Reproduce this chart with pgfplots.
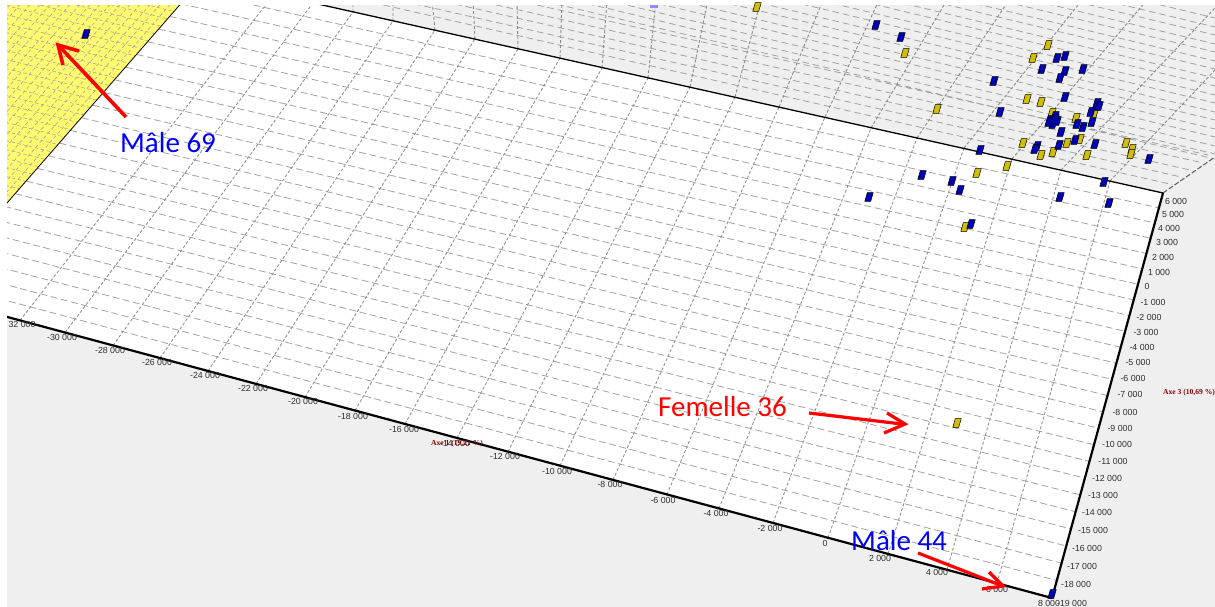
\documentclass[border=0pt]{standalone}
\usepackage{fontspec}
\setmainfont{Liberation Sans}
\newfontfamily\calib{Carlito}
\newfontfamily\seriff{Liberation Serif}
\usepackage{pgfplots}
\pgfplotsset{compat=1.18}
\definecolor{bgg}{HTML}{EFEFEF}
\definecolor{yel}{HTML}{FFFA6E}
\definecolor{gridg}{HTML}{A2A2A2}
\definecolor{chipb}{HTML}{0000B4}
\definecolor{chipy}{HTML}{D2BE00}
\pgfdeclareplotmark{chip}{%
  \pgfpathmoveto{\pgfqpoint{-4.2pt}{-4.4pt}}%
  \pgfpathlineto{\pgfqpoint{1.7pt}{-4.4pt}}%
  \pgfpathlineto{\pgfqpoint{4.2pt}{4.4pt}}%
  \pgfpathlineto{\pgfqpoint{-1.7pt}{4.4pt}}%
  \pgfpathclose
  \pgfusepathqfillstroke}
\newcommand\lab[3]{\node[font=\fontsize{8.8}{10}\selectfont,text=black!82,inner sep=0pt] at (axis cs:#1,#2) {#3};}
\begin{document}
\begin{tikzpicture}
\begin{axis}[
  width=1215pt,height=607pt,scale only axis,
  xmin=0,xmax=1215,ymin=0,ymax=607,y dir=reverse,
  hide axis,unbounded coords=jump,
  legend style={draw=none},
]
% background, back wall
\fill[bgg] (axis cs:0,0) rectangle (axis cs:1215,607);
% wall grid, rows
\addplot[gridg,line width=0.8pt,dash pattern=on 6.5pt off 4pt] coordinates {
(322,-9) (1172,184.5) (nan,nan)
(322,-17) (1181,177) (nan,nan)
(322,-26) (1190,170) (nan,nan)
(322,-34) (1199,162) (nan,nan)
(322,-43) (1208,155) (nan,nan)
(322,-51) (1215,159) (nan,nan)
(322,-60) (1215,154) (nan,nan)
(322,-68) (1215,146) (nan,nan)
(322,-77) (1215,137) (nan,nan)
(322,-85) (1215,129) (nan,nan)
(322,-94) (1215,120) (nan,nan)
(322,-102) (1215,112) (nan,nan)
(322,-111) (1215,103) (nan,nan)
(322,-119) (1215,95) (nan,nan)
(322,-128) (1215,86) (nan,nan)
(322,-136) (1215,78) (nan,nan)
(322,-145) (1215,69) (nan,nan)
(322,-153) (1215,61) (nan,nan)
(322,-162) (1215,52) (nan,nan)
(322,-170) (1215,44) (nan,nan)
(322,-179) (1215,35) (nan,nan)
(322,-187) (1215,27) (nan,nan)
(322,-196) (1215,18) (nan,nan)
};
% wall grid, columns
\addplot[gridg!85!black,line width=0.9pt,dash pattern=on 3pt off 2pt] coordinates {
(353,12) (353,0) (nan,nan)
(393,21) (393,0) (nan,nan)
(435,30) (432,0) (nan,nan)
(475,39) (473,0) (nan,nan)
(518,49) (517,0) (nan,nan)
(560,58) (562,0) (nan,nan)
(602,68) (607,0) (nan,nan)
(648,78) (656,0) (nan,nan)
(690,87) (708,0) (nan,nan)
(735,97) (761,0) (nan,nan)
(779,107) (823,0) (nan,nan)
(825,117) (879,0) (nan,nan)
(871,128) (947,0) (nan,nan)
(917,138) (1009,0) (nan,nan)
(964,148) (1082,0) (nan,nan)
(1012,159) (1147,0) (nan,nan)
(1061,170) (1215,8) (nan,nan)
(1110,181) (1215,70) (nan,nan)
};
\addplot[black!60,line width=1.1pt,dash pattern=on 5pt off 2pt] coordinates {(1163,193) (1215,157)};
% yellow wall
\fill[yel] (axis cs:0,0) -- (axis cs:184,0) -- (axis cs:0,211) -- cycle;
\addplot[gridg,line width=0.6pt,dash pattern=on 3.5pt off 2.5pt] coordinates {
(0,193) (200,243) (nan,nan)
(0,184) (200,234) (nan,nan)
(0,175) (200,225) (nan,nan)
(0,166) (200,216) (nan,nan)
(0,157) (200,207) (nan,nan)
(0,148) (200,198) (nan,nan)
(0,139) (200,189) (nan,nan)
(0,130) (200,180) (nan,nan)
(0,121) (200,171) (nan,nan)
(0,112) (200,162) (nan,nan)
(0,103) (200,153) (nan,nan)
(0,94) (200,144) (nan,nan)
(0,85) (200,135) (nan,nan)
(0,76) (200,126) (nan,nan)
(0,67) (200,117) (nan,nan)
(0,58) (200,108) (nan,nan)
(0,49) (200,99) (nan,nan)
(0,40) (200,90) (nan,nan)
(0,31) (200,81) (nan,nan)
(0,22) (200,72) (nan,nan)
(0,13) (200,63) (nan,nan)
(0,4) (200,54) (nan,nan)
(0,-5) (200,45) (nan,nan)
(0,-14) (200,36) (nan,nan)
(0,-23) (200,27) (nan,nan)
(0,-32) (200,18) (nan,nan)
(0,-41) (200,9) (nan,nan)
};
\addplot[gridg,line width=0.6pt,dash pattern=on 3.5pt off 2.5pt] coordinates {
(174,0) (0,200) (nan,nan)
(164,0) (0,188.5) (nan,nan)
(154,0) (0,177) (nan,nan)
(144,0) (0,165.5) (nan,nan)
(134,0) (0,154) (nan,nan)
(124,0) (0,142.5) (nan,nan)
(114,0) (0,131) (nan,nan)
(104,0) (0,119.5) (nan,nan)
(94,0) (0,108) (nan,nan)
(84,0) (0,96.5) (nan,nan)
(74,0) (0,85) (nan,nan)
(64,0) (0,73.5) (nan,nan)
(54,0) (0,62) (nan,nan)
(44,0) (0,50.5) (nan,nan)
(34,0) (0,39) (nan,nan)
(24,0) (0,27.6) (nan,nan)
(14,0) (0,16) (nan,nan)
};
% floor
\fill[white] (axis cs:184,0) -- (axis cs:300,0) -- (axis cs:1163,193) -- (axis cs:1052,598) -- (axis cs:0,315) -- (axis cs:0,211) -- cycle;
% floor rows
\addplot[gridg,line width=0.8pt,dash pattern=on 7pt off 3.5pt] coordinates {
(192,-8.8) (1158.9,207.9) (nan,nan)
(180.9,3.8) (1154.8,223) (nan,nan)
(169.9,16.5) (1150.6,238.2) (nan,nan)
(158.8,29.1) (1146.4,253.5) (nan,nan)
(147.8,41.8) (1142.2,268.8) (nan,nan)
(136.8,54.5) (1138,284.3) (nan,nan)
(125.7,67.1) (1133.7,299.9) (nan,nan)
(114.7,79.8) (1129.4,315.6) (nan,nan)
(103.6,92.4) (1125.1,331.3) (nan,nan)
(92.6,105.1) (1120.7,347.2) (nan,nan)
(81.6,117.8) (1116.3,363.2) (nan,nan)
(70.5,130.4) (1111.9,379.3) (nan,nan)
(59.5,143.1) (1107.5,395.5) (nan,nan)
(48.4,155.7) (1103,411.8) (nan,nan)
(37.4,168.4) (1098.5,428.2) (nan,nan)
(26.4,181.1) (1094,444.7) (nan,nan)
(15.3,193.7) (1089.5,461.4) (nan,nan)
(4.3,206.4) (1084.9,478.1) (nan,nan)
(-6.8,219) (1080.3,494.9) (nan,nan)
(-17.8,231.7) (1075.6,511.8) (nan,nan)
(-28.8,244.4) (1071,528.9) (nan,nan)
(-39.9,257) (1066.3,546) (nan,nan)
(-50.9,269.7) (1061.5,563.2) (nan,nan)
(-62,282.3) (1056.8,580.5) (nan,nan)
};
% floor columns
\addplot[gridg!90!black,line width=0.9pt,dash pattern=on 3pt off 2pt] coordinates {
(20,320.5) (274,-5.7) (nan,nan)
(65,332.6) (313,3) (nan,nan)
(113,345.5) (353,12) (nan,nan)
(160,358.1) (393,21) (nan,nan)
(208,371) (435,30) (nan,nan)
(256,384) (475,39) (nan,nan)
(305,397.1) (518,49) (nan,nan)
(355,410.6) (560,58) (nan,nan)
(405,424) (602,68) (nan,nan)
(457,438) (648,78) (nan,nan)
(508,451.7) (690,87) (nan,nan)
(560,465.7) (735,97) (nan,nan)
(613,480) (779,107) (nan,nan)
(667,494.5) (825,117) (nan,nan)
(719,508.5) (871,128) (nan,nan)
(773,523) (917,138) (nan,nan)
(828,537.8) (964,148) (nan,nan)
(888,553.9) (1012,159) (nan,nan)
(947,569.8) (1061,170) (nan,nan)
(997,583.2) (1110,181) (nan,nan)
};
% edges
\addplot[black,line width=0.8pt] coordinates {(184,0) (0,211)};
\addplot[black,line width=1.3pt] coordinates {(300,0) (1163,193)};
\addplot[black,line width=2.2pt] coordinates {(1163,193) (1052,598)};
\addplot[black,line width=2.2pt] coordinates {(0,315) (1052,598)};
% points
\addplot[only marks,mark=chip,mark options={fill=chipy,draw=black,line width=0.5pt}] coordinates {
(757,7) (905,53) (1048,45) (1033,58) (937,109) (1027,99) (1041,102) (1052,113)
(1076,118) (1094,114) (1023,143) (1041,155) (1053,152) (1067,143) (1080,139)
(1087,155) (1126,143) (1132,149) (1131,154) (1007,166) (977,173) (965,227) (957,423)
};
\addplot[only marks,mark=chip,mark options={fill=chipb,draw=black,line width=0.5pt}] coordinates {
(86,34) (876,25) (901,37) (994,81) (1057,58) (1065,56) (1042,69) (1083,69)
(1065,71) (1060,78) (1065,97) (1000,112) (1097,103) (1099,106) (1091,112)
(1092,122) (1083,127) (1077,124) (1061,132) (1075,140) (1059,145) (1095,144)
(1037,146) (1035,149) (1149,159) (980,150) (1055,116) (1050,120) (1057,121)
(1053,124) (1049,122) (1055,119) (922,175) (952,181) (960,190) (1104,182)
(1060,197) (1109,203) (971,224) (869,197) (1052,594)
};
\fill[blue!45] (axis cs:650,5) rectangle (axis cs:658,8);
% margins
\fill[white] (axis cs:0,0) rectangle (axis cs:1215,5);
\fill[white] (axis cs:0,0) rectangle (axis cs:7,607);
% bottom tick labels
\lab{22}{324}{32 000}
\lab{62}{337}{-30 000}
\lab{110}{350}{-28 000}
\lab{157}{362}{-26 000}
\lab{205}{375}{-24 000}
\lab{253}{388}{-22 000}
\lab{303}{401}{-20 000}
\lab{353}{416}{-18 000}
\lab{404}{429}{-16 000}
\lab{455}{443}{-14 000}
\lab{505}{456}{-12 000}
\lab{557}{471}{-10 000}
\lab{610}{484}{-8 000}
\lab{663}{500}{-6 000}
\lab{716}{513}{-4 000}
\lab{770}{528}{-2 000}
\lab{825}{543}{0}
\lab{880}{558}{2 000}
\lab{937}{572}{4 000}
\lab{997}{589}{6 000}
\lab{1049}{603}{8 000}
% right tick labels
\lab{1176}{201}{6 000}
\lab{1173}{214}{5 000}
\lab{1169}{228}{4 000}
\lab{1167}{242}{3 000}
\lab{1163}{257}{2 000}
\lab{1159}{272}{1 000}
\lab{1147}{286}{0}
\lab{1153}{302}{-1 000}
\lab{1149}{317}{-2 000}
\lab{1146}{332}{-3 000}
\lab{1142}{347}{-4 000}
\lab{1138}{362}{-5 000}
\lab{1133}{378}{-6 000}
\lab{1130}{394}{-7 000}
\lab{1125}{412}{-8 000}
\lab{1120}{428}{-9 000}
\lab{1117}{444}{-10 000}
\lab{1113}{461}{-11 000}
\lab{1107}{478}{-12 000}
\lab{1103}{495}{-13 000}
\lab{1097}{512}{-14 000}
\lab{1093}{530}{-15 000}
\lab{1087}{548}{-16 000}
\lab{1082}{566}{-17 000}
\lab{1076}{584}{-18 000}
\lab{1072}{603}{-19 000}
% axis names
\node[font=\seriff\fontsize{7.6}{9}\selectfont\bfseries,text=red!55!black,inner sep=0pt] at (axis cs:1189,393) {Axe 3 (10,69 \%)};
\node[font=\seriff\fontsize{7.6}{9}\selectfont\bfseries,text=red!55!black,inner sep=0pt] at (axis cs:457,444) {Axe 1 (19,21 \%)};
% arrows
\addplot[red,line width=3.6pt] coordinates {(126,117) (60,47)};
\addplot[red,line width=3.6pt,line join=miter] coordinates {(79,51) (58,45) (63,65)};
\addplot[red,line width=3.2pt] coordinates {(809,413) (902,424)};
\addplot[red,line width=3.2pt,line join=miter] coordinates {(887,413) (905,424) (884,433)};
\addplot[red,line width=3.2pt] coordinates {(918,553) (1000,585)};
\addplot[red,line width=3.2pt,line join=miter] coordinates {(989,572) (1003,586) (982,589)};
% annotations
\node[font=\calib\fontsize{29}{32}\selectfont,text=blue,anchor=west,inner sep=0pt] at (axis cs:120,143) {Mâle 69};
\node[font=\calib\fontsize{29}{32}\selectfont,text=red,anchor=west,inner sep=0pt] at (axis cs:658,407) {Femelle 36};
\node[font=\calib\fontsize{29}{32}\selectfont,text=blue,anchor=west,inner sep=0pt] at (axis cs:851,541) {Mâle 44};
\end{axis}
\end{tikzpicture}
\end{document}
